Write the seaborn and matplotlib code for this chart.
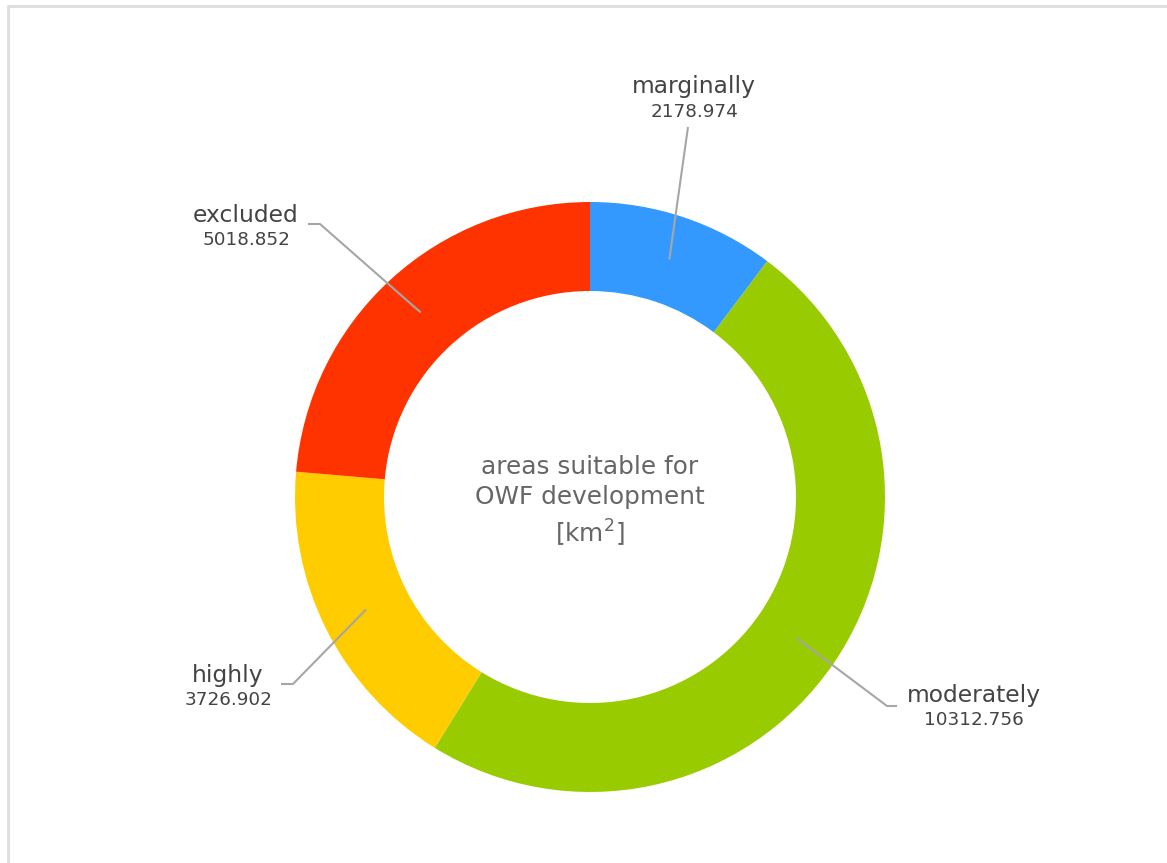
import matplotlib
matplotlib.use("Agg")
import matplotlib.pyplot as plt
import seaborn as sns
import numpy as np

# ---- data ----
categories = ["marginally", "moderately", "highly", "excluded"]
values = [2178.974, 10312.756, 3726.902, 5018.852]
value_labels = ["2178.974", "10312.756", "3726.902", "5018.852"]
colors = ["#3399ff", "#99cc00", "#ffcc00", "#ff3300"]
center_title = "areas suitable for\nOWF development\n[km$^{2}$]"

sns.set_theme(style="white")
plt.rcParams["font.family"] = ["DejaVu Sans"]
plt.rcParams["mathtext.fontset"] = "dejavusans"
plt.rcParams["mathtext.default"] = "regular"

W, H = 1167, 863
fig = plt.figure(figsize=(W / 100, H / 100), dpi=100)
ax = fig.add_axes([0, 0, 1, 1])


def sy(y):
    # screen-pixel y (top-down) to data y (bottom-up)
    return H - y


cx, cy = 590, 497
R = 295
width = 89

wedges, _ = ax.pie(values, colors=colors, startangle=90, counterclock=False,
                   radius=R, center=(cx, sy(cy)), frame=True,
                   wedgeprops=dict(width=width, linewidth=0))
ax.set_xlim(0, W)
ax.set_ylim(0, H)
ax.set_aspect("equal")
ax.axis("off")

# label layout (positions of text blocks and leader elbows, screen px)
label_pos = {
    "marginally": (694, 87),
    "moderately": (974, 695),
    "highly": (228, 675),
    "excluded": (246, 215),
}
elbows = {
    "marginally": [(688, 127)],
    "moderately": [(887, 706), (897, 706)],
    "highly": [(293, 684), (281, 684)],
    "excluded": [(320, 224), (308, 224)],
}

total = sum(values)
cum = 0.0
rmid = R - width / 2
for cat, v, vl in zip(categories, values, value_labels):
    mid_frac = (cum + v / 2) / total
    cum += v
    ang = np.deg2rad(90 - 360 * mid_frac)
    px = cx + rmid * np.cos(ang)
    py = sy(cy) + rmid * np.sin(ang)
    pts = [(px, py)] + [(ex, sy(ey)) for ex, ey in elbows[cat]]
    xs, ys = zip(*pts)
    ax.plot(xs, ys, color="#a6a6a6", lw=1.5, solid_capstyle="butt")
    lx, ly = label_pos[cat]
    ax.text(lx, sy(ly), cat, ha="center", va="center", fontsize=16.8, color="#444444")
    ax.text(lx, sy(ly + 25), vl, ha="center", va="center", fontsize=13.2, color="#444444")

ax.text(cx, sy(cy + 5), center_title, ha="center", va="center", fontsize=17.8,
        color="#666666", linespacing=1.35)

# light frame on top and left
fig.add_artist(plt.Line2D([7.5 / W, 7.5 / W], [0, 1 - 6 / H], color="#dddddd", lw=2,
                          transform=fig.transFigure))
fig.add_artist(plt.Line2D([7.5 / W, 1], [1 - 6.5 / H, 1 - 6.5 / H], color="#dddddd", lw=2,
                          transform=fig.transFigure))

fig.savefig("out.png", dpi=100, facecolor="white")
